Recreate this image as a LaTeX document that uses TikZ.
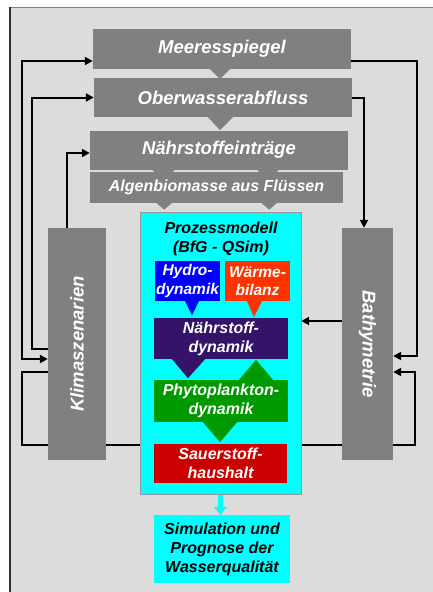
\documentclass[tikz,border=0pt]{standalone}
\usepackage{fontspec}
\usepackage{graphicx}
\setmainfont{Liberation Sans}
\usetikzlibrary{arrows.meta}
\definecolor{bg}{RGB}{220,220,220}
\definecolor{boxgray}{RGB}{128,128,128}
\definecolor{pborder}{RGB}{150,150,150}
\definecolor{hydblue}{RGB}{0,0,255}
\definecolor{waerm}{RGB}{255,51,0}
\definecolor{npurple}{RGB}{51,20,105}
\definecolor{pgreen}{RGB}{0,153,0}
\definecolor{sred}{RGB}{204,0,0}
\definecolor{cyanc}{RGB}{0,255,255}
\begin{document}
\begin{tikzpicture}[x=1pt,y=-1pt,
  graybox/.style={fill=boxgray, inner sep=0pt, text=white, align=center,
    font=\fontsize{18.5}{22}\selectfont\bfseries\itshape},
  smallgray/.style={fill=boxgray, inner sep=0pt, text=white, align=center,
    font=\fontsize{16}{19}\selectfont\bfseries\itshape},
  inbox/.style={inner sep=0pt, text=white, align=center,
    font=\fontsize{16}{19}\selectfont\bfseries\itshape},
  hbox/.style={inner sep=0pt, text=white, align=center,
    font=\fontsize{15.5}{18.5}\selectfont\bfseries\itshape},
  btext/.style={inner sep=0pt, text=black, align=center,
    font=\fontsize{16}{19}\selectfont\bfseries\itshape},
  conn/.style={line width=2pt, draw=black, -{Triangle[length=8pt,width=8pt]}},
  conn2/.style={line width=2pt, draw=black, {Triangle[length=8pt,width=8pt]}-{Triangle[length=8pt,width=8pt]}},
  plainconn/.style={line width=2pt, draw=black}
]
\useasboundingbox (0,0) rectangle (433,592);
\fill[white] (0,0) rectangle (433,592);
\fill[bg] (10,7) rectangle (433,592);
\draw[boxgray, line width=1pt] (10,7) -- (433,7);
\draw[black!80, line width=1.5pt] (10,7) -- (10,592);

% nodes (positions only; drawn later for layering)
\path
  node[minimum width=58pt, minimum height=232pt] (klima) at (77,344) {}
  node[minimum width=51pt, minimum height=232pt] (bath) at (367.5,344) {}
  node[minimum width=258pt, minimum height=40pt] (mee) at (222,49) {}
  node[minimum width=258pt, minimum height=39pt] (obw) at (223,97.5) {}
  node[minimum width=258pt, minimum height=39pt] (nae) at (219,150) {}
  node[minimum width=161pt, minimum height=282pt] (proz) at (220.5,353) {}
  node[minimum width=136pt, minimum height=68pt] (sim) at (222,549) {};

% connectors (behind boxes)
\draw[conn2] ([yshift=-12pt]mee.west) -- ++(-71,0) |- ([yshift=-15pt]klima.west);
\draw[conn] ([yshift=-5pt]klima.west) -- ++(-16,0) |- (obw.west);
\draw[conn] ([xshift=-10pt]klima.north) |- ([yshift=-3pt]nae.west);
\draw[conn] ([yshift=-28pt]klima.west) -- ++(-26,0) -- ++(0,73) -- ++(393,0) |- ([yshift=-28pt]bath.east);
\draw[conn] ([yshift=-12pt]mee.east) -- ++(66,0) |- ([yshift=-12pt]bath.east);
\draw[conn] (obw.east) -| ([xshift=-3.5pt]bath.north);
\draw[conn] ([yshift=23pt]bath.west) -- ([yshift=23pt]bath.west -| proz.east);
\draw[cyanc, line width=5pt, -{Triangle[length=8pt,width=13pt]}] (proz.south) -- (proz.south |- sim.north);

% gray column boxes
\node[graybox, minimum width=58pt, minimum height=232pt] at (klima.center) {\rotatebox{90}{Klimaszenarien}};
\node[graybox, minimum width=51pt, minimum height=232pt] at (bath.center) {\rotatebox{-90}{Bathymetrie}};

% top chain
\node[graybox, minimum width=258pt, minimum height=40pt] at (mee.center) {Meeresspiegel};
\fill[boxgray] ([xshift=-12pt]mee.south) -- ([xshift=8pt]mee.south) -- ([xshift=-2pt,yshift=-10pt]mee.south) -- cycle;
\node[graybox, minimum width=258pt, minimum height=39pt] at (obw.center) {Oberwasserabfluss};
\fill[boxgray] ([xshift=-15pt]obw.south) -- ([xshift=10pt]obw.south) -- ([xshift=-3pt,yshift=-13pt]obw.south) -- cycle;
\node[graybox, minimum width=258pt, minimum height=39pt] at (nae.center) {Nährstoffeinträge};
\fill[boxgray] ([xshift=-67pt]nae.south) -- ([xshift=-44pt]nae.south) -- ([xshift=-55.5pt,yshift=-11.5pt]nae.south) -- cycle;
\fill[boxgray] ([xshift=38pt]nae.south) -- ([xshift=60pt]nae.south) -- ([xshift=49pt,yshift=-11pt]nae.south) -- cycle;
\node[smallgray, minimum width=253pt, minimum height=31pt] (alg) at (216.5,187.5) {Algenbiomasse aus Flüssen};
\fill[boxgray] ([xshift=-59.8pt]alg.south) -- ([xshift=-44.8pt]alg.south) -- ([xshift=-52.3pt,yshift=-6.5pt]alg.south) -- cycle;
\fill[boxgray] ([xshift=45.2pt]alg.south) -- ([xshift=60.2pt]alg.south) -- ([xshift=52.7pt,yshift=-6.5pt]alg.south) -- cycle;

% process model
\node[fill=cyanc, draw=pborder, line width=1pt, minimum width=161pt, minimum height=282pt] at (proz.center) {};
\node[btext] (ptitle) at (221,238.5) {Prozessmodell\\(BfG - QSim)};
\node[hbox, fill=hydblue, minimum width=65pt, minimum height=40pt] (hyd) at (187.5,281) {Hydro-\\dynamik};
\fill[hydblue] ([xshift=-2.5pt]hyd.south) -- ([xshift=11.5pt]hyd.south) -- ([xshift=4.5pt,yshift=-14pt]hyd.south) -- cycle;
\node[hbox, fill=waerm, minimum width=65pt, minimum height=40pt] (waer) at (257.5,281) {Wärme-\\bilanz};
\fill[waerm] ([xshift=-10.5pt]waer.south) -- ([xshift=4.5pt]waer.south) -- ([xshift=-3.5pt,yshift=-16pt]waer.south) -- cycle;
\node[inbox, fill=npurple, minimum width=134pt, minimum height=41pt] (ndyn) at (221,338.5) {Nährstoff-\\dynamik};
\fill[npurple] ([xshift=-49pt]ndyn.south) -- ([xshift=-16pt]ndyn.south) -- ([xshift=-33pt,yshift=-19pt]ndyn.south) -- cycle;
\node[inbox, fill=pgreen, minimum width=134pt, minimum height=42pt] (phyto) at (221,401) {Phytoplankton-\\dynamik};
\fill[pgreen] ([xshift=18pt]phyto.north) -- ([xshift=52pt]phyto.north) -- ([xshift=35pt,yshift=20pt]phyto.north) -- cycle;
\fill[pgreen] ([xshift=-18pt]phyto.south) -- ([xshift=16pt]phyto.south) -- ([xshift=-1pt,yshift=-20pt]phyto.south) -- cycle;
\node[inbox, fill=sred, minimum width=133pt, minimum height=39pt] (sauer) at (220.5,463.5) {Sauerstoff-\\haushalt};

% result
\node[btext, fill=cyanc, minimum width=136pt, minimum height=68pt] at (sim.center) {Simulation und\\Prognose der\\Wasserqualität};
\end{tikzpicture}
\end{document}
